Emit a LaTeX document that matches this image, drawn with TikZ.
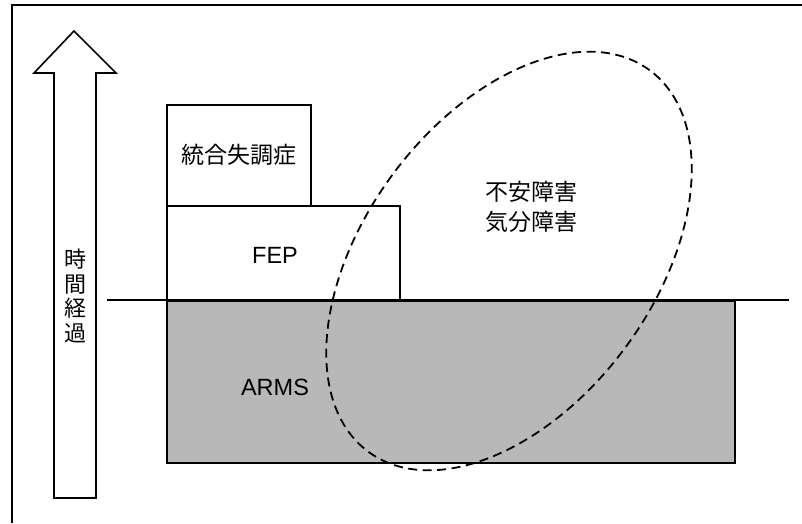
\documentclass[tikz,border=0pt]{standalone}
\usepackage{fontspec}
\setmainfont{Liberation Sans}
\newfontfamily\jp{Noto Sans CJK JP}
\begin{document}
\begin{tikzpicture}[x=1pt,y=1pt,
  box/.style={draw=black,line width=1.5pt,fill=white,inner sep=0pt},
  jptext/.style={font=\jp\fontsize{23}{30}\selectfont,align=center},
  lattext/.style={font=\fontsize{23.5}{26}\selectfont},
  oval/.style={draw=black,line width=1.8pt,dash pattern=on 9pt off 5.5pt}]
\useasboundingbox (0,0) rectangle (802,523);
% outer frame (cropped at right and bottom)
\draw[line width=1.6pt] (12,0) -- (12,518) -- (802,518);
% time arrow
\draw[line width=1.6pt,fill=white,line join=miter]
  (54,25) -- (54,450) -- (34,450) -- (74,492) -- (116,450) -- (96,450) -- (96,25) -- cycle;
\node[jptext,font=\jp\fontsize{22}{24.5}\selectfont] (time) at (75,227) {時\\間\\経\\過};
% gray ARMS area
\node[draw=black,line width=1.5pt,fill=black!28,minimum width=568pt,minimum height=162pt,inner sep=0pt] (arms) at (451,141) {};
\node[lattext] (armslabel) at (275,136) {ARMS};
% boxes
\node[box,minimum width=233pt,minimum height=94pt] (fep) at (283.5,270) {};
\node[lattext] (feplabel) at (275,268) {FEP};
\node[box,minimum width=144pt,minimum height=101pt] (sch) at (239,367.5) {};
\node[jptext] (schlabel) at (239,368) {統合失調症};
% baseline
\coordinate (lineL) at (107,223);
\coordinate (lineR) at (789,223);
\draw[line width=2.2pt] (lineL) -- (lineR);
% anxiety / mood ellipse
\draw[oval,rotate around={53.6:(509,262)}] (509,262) ellipse [x radius=237, y radius=145];
\node[jptext] (mood) at (531,316) {不安障害\\気分障害};
\end{tikzpicture}
\end{document}
